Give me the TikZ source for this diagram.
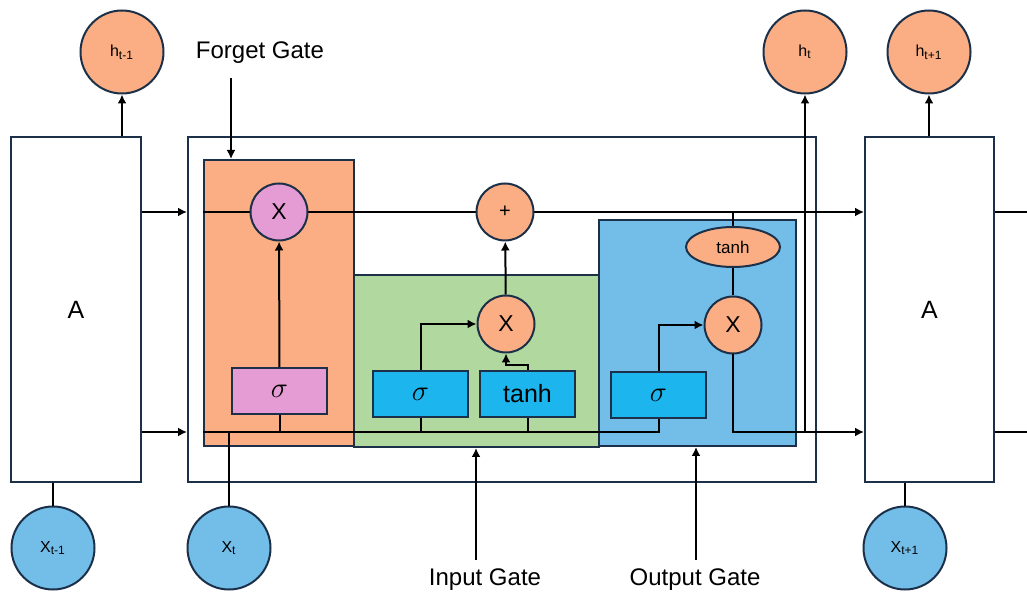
\documentclass[tikz,border=0pt]{standalone}
\usepackage{fontspec}
\setmainfont{Liberation Sans}
\usetikzlibrary{positioning,arrows.meta,shapes.geometric,calc}
\definecolor{lstmEdge}{HTML}{1C3149}
\definecolor{lstmOr}{HTML}{FBAE83}
\definecolor{lstmGr}{HTML}{B1D89F}
\definecolor{lstmBl}{HTML}{72BEE9}
\definecolor{lstmAct}{HTML}{1DB5EE}
\definecolor{lstmPk}{HTML}{E59BD3}

\begin{document}
\begin{tikzpicture}[
  x=0.5pt, y=-0.5pt, line width=1pt,
  every node/.style={font=\fontsize{12}{14}\selectfont},
  unit/.style={rectangle, draw=lstmEdge, line width=1pt, fill=white, anchor=north west,
               inner sep=0pt, minimum height=172.5pt, font=\fontsize{12.5}{14}\selectfont},
  gatebox/.style={rectangle, draw=lstmEdge, line width=1pt, anchor=north west, inner sep=0pt},
  actbox/.style={rectangle, draw=lstmEdge, line width=1pt, anchor=north west, inner sep=0pt,
                 minimum width=47.5pt, minimum height=23pt},
  op/.style={circle, draw=lstmEdge, line width=1pt, fill=lstmOr, minimum size=28.5pt,
             inner sep=0pt, font=\fontsize{11.5}{13}\selectfont},
  state/.style={circle, draw=lstmEdge, line width=1pt, minimum size=41.5pt, inner sep=0pt,
                font=\fontsize{8}{10}\selectfont},
  sig/.style={font=\fontsize{15}{15}\selectfont},
  flow/.style={-{Latex[length=4.5pt,width=4.5pt]}}
]
  \useasboundingbox (0,0) rectangle (1027,592);

  % unrolled units and the cell in the middle
  \node[unit, minimum width=65pt]   (cellA) at (10,136)  {A};
  \node[unit, minimum width=314pt]  (cell)  at (187,136) {};
  \node[unit, minimum width=64.5pt] (cellB) at (864,136) {A};

  % gate regions
  \node[gatebox, fill=lstmOr, minimum width=75pt, minimum height=143pt]   (forget) at (203,159) {};
  \node[gatebox, fill=lstmGr, minimum width=122.5pt, minimum height=86pt] (input)  at (353,274) {};
  \node[gatebox, fill=lstmBl, minimum width=98.5pt, minimum height=113pt] (output) at (598,219) {};

  % activation layers
  \node[actbox, sig, fill=lstmPk]  (fsig)  at (231,367) {$\sigma$};
  \node[actbox, sig, fill=lstmAct] (isig)  at (372,370) {$\sigma$};
  \node[actbox, fill=lstmAct, font=\fontsize{12.5}{14}\selectfont] (itanh) at (479,370) {tanh};
  \node[actbox, sig, fill=lstmAct] (osig)  at (610,371) {$\sigma$};

  \coordinate (low)   at (203,432);
  \coordinate (edgeR) at (1027,0);
  \coordinate (fin)   at (231,78);
  \coordinate (iin)   at (476,560);
  \coordinate (oin)   at (696,560);

  % cell state and hidden state lines
  \draw[flow] (cellA.east |- 0,212) -- (cell.west |- 0,212);
  \draw[flow] (cellA.east |- low) -- (cell.west |- low);
  \draw (forget.west |- 0,212) -- (505,212);
  \draw[flow] (505,212) -- (cellB.west |- 0,212);
  \draw (733,212) -- (733,247);
  \draw (forget.west |- low) -- (osig.south |- low) -- (osig.south);
  \draw (fsig.south) -- (fsig.south |- low);
  \draw (isig.south) -- (isig.south |- low);
  \draw (itanh.south) -- (itanh.south |- low);
  \draw (cellB.east |- 0,212) -- (edgeR |- 0,212);
  \draw (cellB.east |- low) -- (edgeR |- low);

  % pointwise operations
  \node[op, fill=lstmPk] (fX)    at (279,212) {X};
  \node[op, font=\fontsize{10}{12}\selectfont] (plus) at (505,212) {+};
  \node[op]              (iX)    at (506,324) {X};
  \node[op]              (oX)    at (733,325) {X};
  \node[ellipse, draw=lstmEdge, line width=1pt, fill=lstmOr, minimum width=47pt,
        minimum height=20pt, inner sep=0pt, font=\fontsize{8.5}{10}\selectfont] (otanh) at (733,247) {tanh};

  \draw[flow] (fsig) -- (fX);
  \draw[flow] (isig.north) |- (iX.west);
  \draw[flow] (itanh.north) -- ++(0,-5) -| (iX.south);
  \draw[flow] (iX) -- (plus);
  \draw (otanh) -- (oX);
  \draw[flow] (osig.north) |- (oX.west);
  \draw[flow] (oX.south) |- (cellB.west |- low);

  % inputs and outputs
  \node[state, fill=lstmOr] (htm) at (122,52)  {h\textsubscript{t-1}};
  \node[state, fill=lstmOr] (ht)  at (805,52)  {h\textsubscript{t}};
  \node[state, fill=lstmOr] (htp) at (929,52)  {h\textsubscript{t+1}};
  \node[state, fill=lstmBl] (xtm) at (53,548)  {X\textsubscript{t-1}};
  \node[state, fill=lstmBl] (xt)  at (229,548) {X\textsubscript{t}};
  \node[state, fill=lstmBl] (xtp) at (905,548) {X\textsubscript{t+1}};

  \draw[flow] (cellA.north -| htm) -- (htm);
  \draw[flow] (ht.south |- low) -- (ht);
  \draw[flow] (cellB.north -| htp) -- (htp);
  \draw (xtm) -- (xtm |- cellA.south);
  \draw (xt) -- (xt |- low);
  \draw (xtp) -- (xtp |- cellB.south);

  % gate labels
  \node (lblF) at (260,53)  {Forget Gate};
  \node (lblI) at (485,580) {Input Gate};
  \node (lblO) at (695,580) {Output Gate};
  \draw[flow] (fin) -- (fin |- forget.north);
  \draw[flow] (iin) -- (iin |- input.south);
  \draw[flow] (oin) -- (oin |- output.south);
\end{tikzpicture}
\end{document}
